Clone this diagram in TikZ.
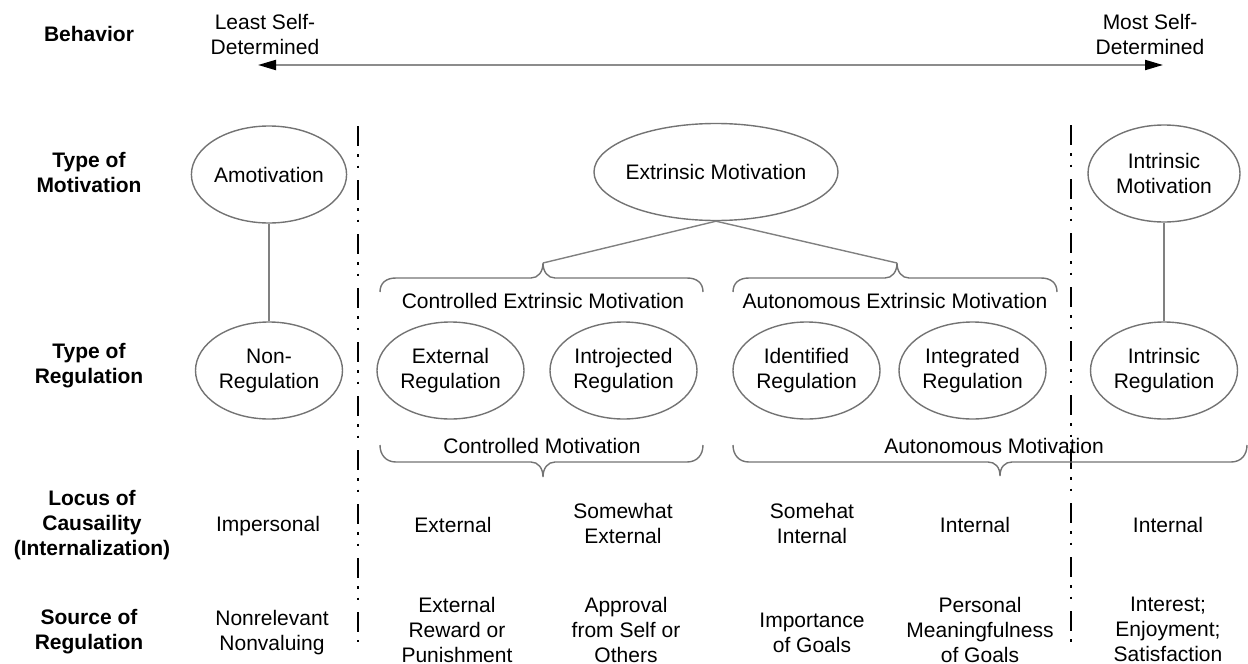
\documentclass[tikz,border=0pt]{standalone}
\usepackage{fontspec}
\setmainfont{Liberation Sans}
\usetikzlibrary{shapes.geometric,arrows.meta}

\begin{document}
\begin{tikzpicture}[x=0.5pt,y=-0.5pt,
        font=\fontsize{10.5}{12.5}\selectfont,
        oval/.style={ellipse,draw=black!55,line width=0.7pt,inner sep=0pt,
            minimum width=73.5pt,minimum height=48.5pt,align=center},
        rowlbl/.style={font=\fontsize{10.5}{12.5}\selectfont\bfseries,align=center,inner sep=0pt},
        cell/.style={align=center,inner sep=0pt},
        link/.style={draw=black!50,line width=0.7pt},
        curly/.style={draw=black!55,line width=0.7pt},
        scalearrow/.style={draw=black!45,line width=1pt,
            {Triangle[length=9pt,width=5pt,color=black]}-{Triangle[length=9pt,width=5pt,color=black]}},
        divider/.style={line width=1.4pt,
            dash pattern=on 10pt off 4.2pt on 1.4pt off 4.2pt on 1.4pt off 5.8pt}]
    \useasboundingbox (0,0) rectangle (1248,664);

    % row headings
    \node[rowlbl] (behav) at (89,34) {Behavior};
    \node[rowlbl] (typmot) at (89,172) {Type of\\Motivation};
    \node[rowlbl] (typreg) at (89,366) {Type of\\Regulation};
    \node[rowlbl] (locus) at (92,525) {Locus of\\Causaility\\(Internalization)};
    \node[rowlbl] (source) at (89,632) {Source of\\Regulation};

    % self-determination scale
    \node[cell] (least) at (265,34) {Least Self-\\Determined};
    \node[cell] (most) at (1150,34) {Most Self-\\Determined};
    \coordinate (lefttip) at (258,65);
    \coordinate (righttip) at (1163,65);
    \draw[scalearrow] (lefttip) -- (righttip);

    % dividers
    \draw[divider] (358,126) -- (358,642);
    \draw[divider] (1071,125) -- (1071,648);

    % type of motivation
    \node[oval,minimum width=77.5pt] (amot) at (269,174.5) {Amotivation};
    \node[oval,minimum width=122pt,inner xsep=-6pt] (extr) at (716,172) {Extrinsic Motivation};
    \node[oval,minimum width=76pt] (intr) at (1164,173.5) {Intrinsic\\Motivation};

    % type of regulation
    \node[oval] (nonreg) at (269,370.5) {Non-\\Regulation};
    \node[oval] (extreg) at (450.5,370.5) {External\\Regulation};
    \node[oval] (introreg) at (623.5,370.5) {Introjected\\Regulation};
    \node[oval] (identreg) at (806.5,370.5) {Identified\\Regulation};
    \node[oval] (integreg) at (972.5,370.5) {Integrated\\Regulation};
    \node[oval] (intrreg) at (1164,370.5) {Intrinsic\\Regulation};

    \draw[link] (amot) -- (nonreg);
    \draw[link] (intr) -- (intrreg);

    % braces over the regulations
    \coordinate (cemtip) at (543,263);
    \coordinate (aemtip) at (897,263);
    \draw[link] (extr.south) -- (cemtip);
    \draw[link] (extr.south) -- (aemtip);
    \draw[curly] (380,292) .. controls (380,283) and (386,278) .. (396,278) -- (531,278)
        .. controls (538,278) and (543,272) .. (543,263)
        .. controls (543,272) and (548,278) .. (555,278) -- (687,278)
        .. controls (697,278) and (703,283) .. (703,292);
    \draw[curly] (733,292) .. controls (733,283) and (739,278) .. (749,278) -- (885,278)
        .. controls (892,278) and (897,272) .. (897,263)
        .. controls (897,272) and (902,278) .. (909,278) -- (1041,278)
        .. controls (1051,278) and (1057,283) .. (1057,292);
    \node[cell] (cemlbl) at (543,301) {Controlled Extrinsic Motivation};
    \node[cell] (aemlbl) at (895,301) {Autonomous Extrinsic Motivation};

    % braces under the regulations
    \draw[curly] (380,445) .. controls (380,455) and (386,462) .. (396,462) -- (531,462)
        .. controls (538,462) and (543,468) .. (543,477)
        .. controls (543,468) and (548,462) .. (555,462) -- (687,462)
        .. controls (697,462) and (703,455) .. (703,445);
    \draw[curly] (733,445) .. controls (733,455) and (739,462) .. (749,462) -- (988,462)
        .. controls (995,462) and (1000,467) .. (1000,476)
        .. controls (1000,467) and (1005,462) .. (1012,462) -- (1231,462)
        .. controls (1241,462) and (1247,455) .. (1247,445);
    \node[cell] (cmlbl) at (542,446) {Controlled Motivation};
    \node[cell] (amlbl) at (994,446) {Autonomous Motivation};

    % locus of causality
    \node[cell] (imper) at (268,526) {Impersonal};
    \node[cell] (extlocus) at (453,524.5) {External};
    \node[cell] (swext) at (623,523) {Somewhat\\External};
    \node[cell] (shint) at (812,523) {Somehat\\Internal};
    \node[cell] (intlocus) at (975,524.5) {Internal};
    \node[cell] (intrlocus) at (1168,524.5) {Internal};

    % source of regulation
    \node[cell] (nonrel) at (272,633) {Nonrelevant\\Nonvaluing};
    \node[cell] (extrew) at (457,629.5) {External\\Reward or\\Punishment};
    \node[cell] (approv) at (626,629.5) {Approval\\from Self or\\Others};
    \node[cell] (import) at (812,633) {Importance\\of Goals};
    \node[cell] (persmean) at (980,629.5) {Personal\\Meaningfulness\\of Goals};
    \node[cell] (interest) at (1168,629.5) {Interest;\\Enjoyment;\\Satisfaction};
\end{tikzpicture}
\end{document}
